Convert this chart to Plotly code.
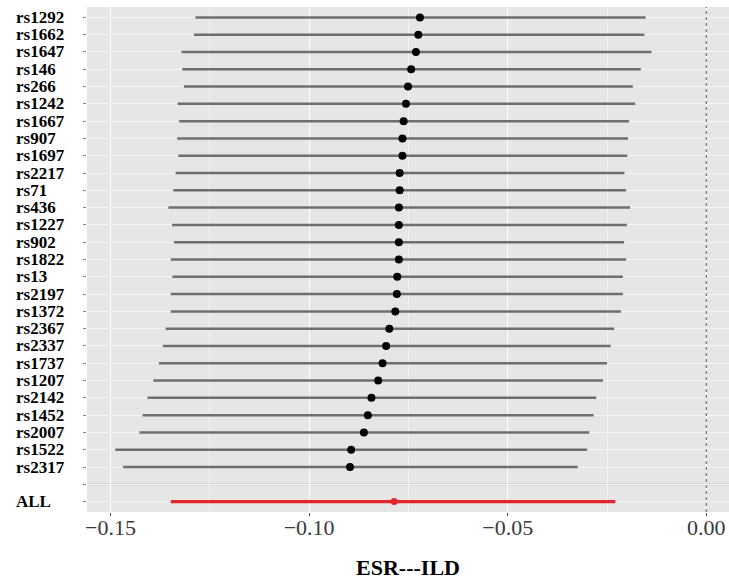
import plotly.graph_objects as go

snps = ["rs1292", "rs1662", "rs1647", "rs146", "rs266", "rs1242", "rs1667", "rs907",
        "rs1697", "rs2217", "rs71", "rs436", "rs1227", "rs902", "rs1822", "rs13",
        "rs2197", "rs1372", "rs2367", "rs2337", "rs1737", "rs1207", "rs2142", "rs1452",
        "rs2007", "rs1522", "rs2317"]
est = [-0.0721, -0.0725, -0.0731, -0.0743, -0.0751, -0.0756, -0.0762, -0.0765,
       -0.0765, -0.0772, -0.0772, -0.0774, -0.0774, -0.0774, -0.0774, -0.0778,
       -0.0779, -0.0783, -0.0798, -0.0806, -0.0815, -0.0826, -0.0843, -0.0852,
       -0.0862, -0.0894, -0.0897]
lo = [-0.1286, -0.1290, -0.1321, -0.1319, -0.1315, -0.1331, -0.1327, -0.1332,
      -0.1329, -0.1336, -0.1342, -0.1354, -0.1345, -0.1340, -0.1348, -0.1344,
      -0.1348, -0.1348, -0.1361, -0.1368, -0.1378, -0.1392, -0.1407, -0.1419,
      -0.1427, -0.1488, -0.1468]
hi = [-0.0153, -0.0156, -0.0138, -0.0165, -0.0185, -0.0179, -0.0195, -0.0197,
      -0.0199, -0.0206, -0.0202, -0.0192, -0.0200, -0.0207, -0.0202, -0.0210,
      -0.0210, -0.0215, -0.0232, -0.0241, -0.0250, -0.0260, -0.0277, -0.0284,
      -0.0295, -0.0300, -0.0324]
all_label = "ALL"
all_est = -0.0786
all_lo = -0.1348
all_hi = -0.0229
x_ticks = [-0.15, -0.10, -0.05, 0.00]
x_tick_text = ["\u22120.15", "\u22120.10", "\u22120.05", "0.00"]
x_title = "ESR---ILD"

SERIF = "Liberation Serif, Times New Roman, Times, serif"

pos = list(range(len(snps)))
blank_pos = len(snps)
all_pos = len(snps) + 1
all_rows = pos + [blank_pos, all_pos]

fig = go.Figure()

# CI segments
sx, sy = [], []
for l, h, p in zip(lo, hi, pos):
    sx += [l, h, None]
    sy += [p, p, None]
fig.add_trace(go.Scatter(x=sx, y=sy, mode="lines",
                         line=dict(color="#6F6F6F", width=2.5), hoverinfo="skip"))
fig.add_trace(go.Scatter(x=est, y=pos, mode="markers",
                         marker=dict(color="black", size=8), text=snps))

# ALL
fig.add_trace(go.Scatter(x=[all_lo, all_hi], y=[all_pos, all_pos], mode="lines",
                         line=dict(color="#E4262C", width=3.2), hoverinfo="skip"))
fig.add_trace(go.Scatter(x=[all_est], y=[all_pos], mode="markers",
                         marker=dict(color="#E4262C", size=7)))

# separator and zero line
fig.add_shape(type="line", xref="paper", x0=0, x1=1, yref="y", y0=blank_pos, y1=blank_pos,
              line=dict(color="#BDBDBD", width=1.6), layer="below")
fig.add_shape(type="line", xref="x", x0=0, x1=0, yref="paper", y0=0, y1=1,
              line=dict(color="#7F7F7F", width=1.4, dash="dot"))

# y labels (left-aligned)
labels = snps + ["", all_label]
for lab, p in zip(labels, all_rows):
    if lab:
        fig.add_annotation(text="<b>" + lab + "</b>", x=-0.1137, xref="paper", y=p, yref="y",
                           xanchor="left", yanchor="middle", showarrow=False,
                           font=dict(family=SERIF, size=17, color="black"))

fig.update_layout(
    width=729, height=581,
    margin=dict(l=87, r=0, t=7, b=69, autoexpand=False),
    paper_bgcolor="white", plot_bgcolor="#E6E6E6",
    showlegend=False,
    font=dict(family=SERIF),
    xaxis=dict(range=[-0.1559, 0.0057], tickvals=x_ticks, ticktext=x_tick_text,
               automargin=False, ticklabelstandoff=-7,
               showgrid=True, gridcolor="white", gridwidth=1.3,
               minor=dict(showgrid=True, gridcolor="#F2F2F2", gridwidth=0.7, dtick=0.025,
                          tick0=-0.125),
               zeroline=False, ticks="outside", ticklen=3, tickcolor="#4D4D4D",
               tickfont=dict(family=SERIF, size=22, color="#3A3A3A"),
               title=dict(text="<b>" + x_title + "</b>", standoff=20,
                          font=dict(family=SERIF, size=22, color="black"))),
    yaxis=dict(range=[all_pos + 0.6, -0.6], tickvals=all_rows, showticklabels=False,
               automargin=False,
               showgrid=True, gridcolor="#F4F4F4", gridwidth=1.2, zeroline=False,
               ticks="outside", ticklen=3, tickcolor="#7F7F7F"),
)

fig.write_html("out.html", config={"displayModeBar": False},
               post_script="document.body.style.margin='0';")
